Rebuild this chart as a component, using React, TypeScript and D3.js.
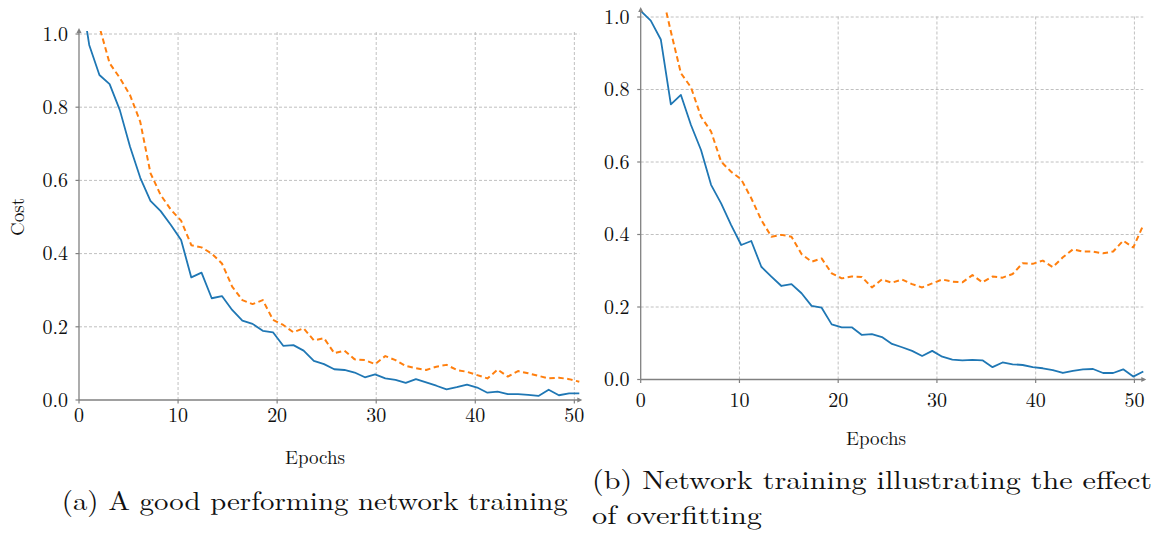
import React from "react";
import * as d3 from "d3";

// ---------- data ----------
const xTicks = [0, 10, 20, 30, 40, 50];
const yTicks = [0, 0.2, 0.4, 0.6, 0.8, 1.0];

// (a) good training: 50 recorded points
const trainCostA = [1.15, 0.970, 0.888, 0.863, 0.792, 0.692, 0.607, 0.544, 0.516, 0.478, 0.437, 0.335, 0.348, 0.278, 0.284, 0.246, 0.217, 0.208, 0.189, 0.185, 0.148, 0.150, 0.135, 0.107, 0.098, 0.084, 0.082, 0.075, 0.062, 0.070, 0.059, 0.055, 0.047, 0.057, 0.048, 0.039, 0.029, 0.035, 0.042, 0.034, 0.020, 0.023, 0.016, 0.016, 0.014, 0.011, 0.028, 0.013, 0.018, 0.018];
const valCostA = [1.25, 1.12, 1.02, 0.92, 0.88, 0.833, 0.76, 0.62, 0.56, 0.52, 0.49, 0.423, 0.417, 0.40, 0.373, 0.31, 0.273, 0.262, 0.273, 0.219, 0.205, 0.185, 0.196, 0.163, 0.169, 0.128, 0.135, 0.111, 0.109, 0.098, 0.120, 0.109, 0.093, 0.087, 0.082, 0.091, 0.096, 0.082, 0.077, 0.068, 0.059, 0.083, 0.064, 0.079, 0.073, 0.066, 0.059, 0.061, 0.057, 0.050];
const epochMaxA = 50.5;

// (b) overfitting: 51 recorded points
const trainCostB = [1.017, 0.990, 0.938, 0.759, 0.785, 0.702, 0.633, 0.537, 0.486, 0.426, 0.371, 0.382, 0.311, 0.284, 0.258, 0.263, 0.238, 0.203, 0.198, 0.152, 0.144, 0.144, 0.123, 0.125, 0.117, 0.098, 0.089, 0.079, 0.065, 0.079, 0.063, 0.055, 0.053, 0.054, 0.053, 0.034, 0.047, 0.042, 0.040, 0.034, 0.031, 0.026, 0.018, 0.024, 0.028, 0.029, 0.018, 0.018, 0.028, 0.008, 0.022];
const valCostB = [1.25, 1.17, 1.08, 0.96, 0.845, 0.806, 0.725, 0.684, 0.601, 0.573, 0.552, 0.50, 0.44, 0.394, 0.399, 0.394, 0.346, 0.325, 0.334, 0.293, 0.279, 0.284, 0.283, 0.254, 0.276, 0.267, 0.276, 0.263, 0.254, 0.265, 0.276, 0.270, 0.268, 0.288, 0.268, 0.284, 0.281, 0.291, 0.321, 0.319, 0.328, 0.310, 0.337, 0.359, 0.353, 0.353, 0.348, 0.353, 0.383, 0.364, 0.426];
const epochMaxB = 50.9;

const xLabel = "Epochs";
const yLabel = "Cost";
const captionA = "(a) A good performing network training";
const captionB1 = "(b) Network training illustrating the effect";
const captionB2 = "of overfitting";

// ---------- style ----------
const FONT = "'Latin Modern Roman', 'CMU Serif', 'Liberation Serif', serif";
const BLUE = "#1f77b4";
const ORANGE = "#ff7f0e";
const AXIS = "#808080";
const GRID = "#b9b9b9";

type PanelProps = {
  id: string;
  train: number[];
  val: number[];
  epochMax: number;
  x0: number; x1: number; yTop: number; yBottom: number; clipTop: number;
  yLabelRight: number; xLabelBaseline: number;
  titleX: number; titleBaseline: number;
  showYLabel: boolean;
};

function Panel(p: PanelProps) {
  const x = d3.scaleLinear().domain([0, p.epochMax]).range([p.x0, p.x1]);
  const xt = d3.scaleLinear().domain([0, 50]).range([p.x0, x(50)]);
  const y = d3.scaleLinear().domain([0, 1]).range([p.yBottom, p.yTop]);
  const step = (n: number) => p.epochMax / (n - 1);
  const line = (vals: number[]) =>
    d3.line<number>()
      .x((_, i) => x(i * step(vals.length)))
      .y((v) => y(v))(vals) || "";
  const fmt = d3.format(".1f");
  const clipId = `clip-${p.id}`;
  return (
    <g>
      <defs>
        <clipPath id={clipId}>
          <rect x={p.x0} y={p.clipTop} width={p.x1 - p.x0 + 1} height={p.yBottom - p.clipTop} />
        </clipPath>
      </defs>
      {/* grid */}
      {yTicks.filter((t) => t > 0).map((t) => (
        <line key={`gy${t}`} x1={p.x0} x2={p.x1} y1={y(t)} y2={y(t)} stroke={GRID} strokeWidth={0.9} strokeDasharray="3,2" />
      ))}
      {xTicks.filter((t) => t > 0).map((t) => (
        <line key={`gx${t}`} x1={xt(t)} x2={xt(t)} y1={p.yBottom} y2={y(1) - 2} stroke={GRID} strokeWidth={0.9} strokeDasharray="3,2" />
      ))}
      {/* data */}
      <g clipPath={`url(#${clipId})`}>
        <path d={line(p.train)} fill="none" stroke={BLUE} strokeWidth={1.8} strokeLinejoin="round" />
        <path d={line(p.val)} fill="none" stroke={ORANGE} strokeWidth={2} strokeDasharray="5.5,3.5" strokeLinejoin="round" />
      </g>
      {/* axes */}
      <line x1={p.x0} x2={p.x0} y1={p.yBottom} y2={p.clipTop - 1} stroke={AXIS} strokeWidth={1.3} />
      <line x1={p.x0} x2={p.x1 + 1} y1={p.yBottom} y2={p.yBottom} stroke={AXIS} strokeWidth={1.3} />
      <path d={`M${p.x0},${p.clipTop - 3} L${p.x0 - 2.5},${p.clipTop + 2} L${p.x0 + 2.5},${p.clipTop + 2} Z`} fill={AXIS} />
      <path d={`M${p.x1 + 3},${p.yBottom} L${p.x1 - 2},${p.yBottom - 2.5} L${p.x1 - 2},${p.yBottom + 2.5} Z`} fill={AXIS} />
      {yTicks.map((t) => (
        <g key={`ty${t}`}>
          <line x1={p.x0 - 3.5} x2={p.x0} y1={y(t)} y2={y(t)} stroke={AXIS} strokeWidth={1.2} />
          <text x={p.yLabelRight} y={y(t) + 6.8} textAnchor="end" fontFamily={FONT} fontSize={20} fill="#111">{fmt(t)}</text>
        </g>
      ))}
      {xTicks.map((t) => (
        <g key={`tx${t}`}>
          <line x1={xt(t)} x2={xt(t)} y1={p.yBottom} y2={p.yBottom + 3.5} stroke={AXIS} strokeWidth={1.2} />
          <text x={xt(t)} y={p.xLabelBaseline} textAnchor="middle" fontFamily={FONT} fontSize={20} fill="#111">{t}</text>
        </g>
      ))}
      <text x={p.titleX} y={p.titleBaseline} textAnchor="middle" fontFamily={FONT} fontSize={19} fill="#111">{xLabel}</text>
      {p.showYLabel && (
        <text transform={`translate(24,${(p.yTop + p.yBottom) / 2}) rotate(-90)`} textAnchor="middle" fontFamily={FONT} fontSize={19} fill="#111">{yLabel}</text>
      )}
    </g>
  );
}

export default function App() {
  return (
    <svg width={1156} height={533} style={{ position: "absolute", left: 0, top: 0, background: "#fff" }}>
      <rect width={1156} height={533} fill="#fff" />
      <Panel id="a" train={trainCostA} val={valCostA} epochMax={epochMaxA}
        x0={79} x1={579.3} yTop={34} yBottom={400} clipTop={31}
        yLabelRight={68} xLabelBaseline={422} titleX={315} titleBaseline={464} showYLabel={true} />
      <Panel id="b" train={trainCostB} val={valCostB} epochMax={epochMaxB}
        x0={640.7} x1={1143.3} yTop={17} yBottom={379.5} clipTop={10}
        yLabelRight={629.5} xLabelBaseline={407} titleX={876} titleBaseline={445} showYLabel={false} />
      <text x={61.7} y={509.5} fontFamily={FONT} fontSize={26} fill="#111" textLength={506} lengthAdjust="spacingAndGlyphs">{captionA}</text>
      <text x={592} y={489} fontFamily={FONT} fontSize={26} fill="#111" textLength={560} lengthAdjust="spacingAndGlyphs">{captionB1}</text>
      <text x={592} y={523.5} fontFamily={FONT} fontSize={26} fill="#111" textLength={170} lengthAdjust="spacingAndGlyphs">{captionB2}</text>
    </svg>
  );
}
